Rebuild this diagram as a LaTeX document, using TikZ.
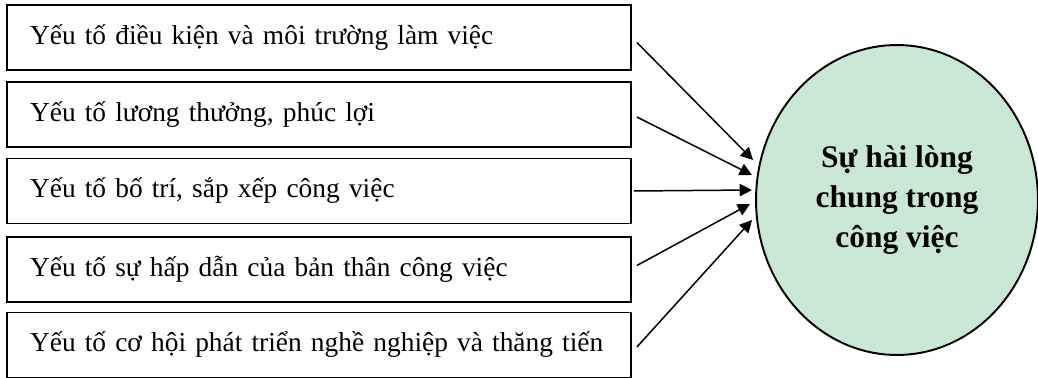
\documentclass[tikz,border=0pt]{standalone}
\usepackage{fontspec}
\setmainfont{Liberation Serif}
\usepackage{tikz}
\usetikzlibrary{shapes.geometric,arrows.meta}
\definecolor{hailong}{RGB}{202,230,213}

\begin{document}
\begin{tikzpicture}[x=0.02cm,y=-0.02cm,
    yeuto/.style={draw,line width=1.1pt,rectangle,minimum height=1.3cm,text width=11.56cm,inner xsep=0.46cm,align=left,font=\fontsize{15.6}{19}\selectfont},
    muiten/.style={-{Triangle[length=7pt,width=7pt]},line width=0.85pt}]

    \useasboundingbox (0,0) rectangle (1038,378);

    \node[yeuto] (dk) at (319,37.5) {Yếu tố điều kiện và môi trường làm việc};
    \node[yeuto] (lt) at (319,114.5) {Yếu tố lương thưởng, phúc lợi};
    \node[yeuto] (bt) at (319,191) {Yếu tố bố trí, sắp xếp công việc};
    \node[yeuto] (hd) at (319,269.5) {Yếu tố sự hấp dẫn của bản thân công việc};
    \node[yeuto] (ch) at (319,345) {Yếu tố cơ hội phát triển nghề nghiệp và thăng tiến};

    \node[draw,ellipse,fill=hailong,line width=1.1pt,minimum width=5.64cm,minimum height=6.2cm,inner sep=0pt,align=center,
        font=\bfseries\fontsize{17.9}{22.9}\selectfont] (hl) at (897,200) {Sự hài lòng\\chung trong\\công việc};

	\coordinate (t1) at (753,160);
	\coordinate (t2) at (752,175);
	\coordinate (t3) at (752,190);
	\coordinate (t4) at (750,204);
	\coordinate (t5) at (752,220);

    \draw[muiten] ([xshift=0.1cm,yshift=-0.1cm]dk.east) -- (t1);
    \draw[muiten] ([xshift=0.1cm,yshift=-0.05cm]lt.east) -- (t2);
    \draw[muiten] ([xshift=0.04cm]bt.east) -- (t3);
    \draw[muiten] ([xshift=0.1cm,yshift=0.08cm]hd.east) -- (t4);
    \draw[muiten] ([xshift=0.1cm,yshift=-0.04cm]ch.east) -- (t5);

\end{tikzpicture}
\end{document}
